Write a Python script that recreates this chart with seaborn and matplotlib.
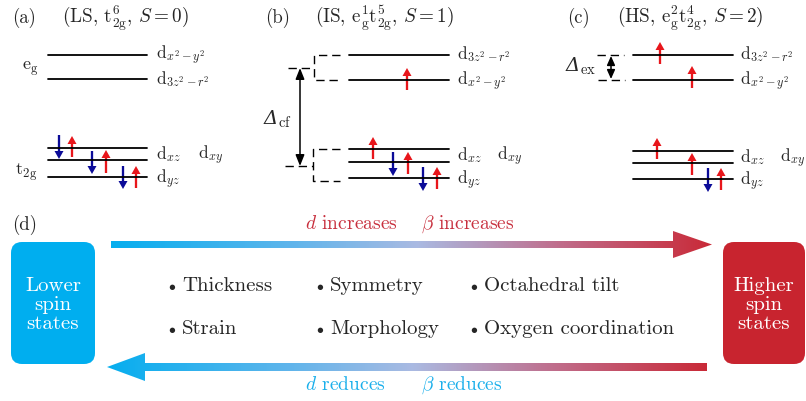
import numpy as np
import pandas as pd
import matplotlib
matplotlib.use('Agg')
import matplotlib.pyplot as plt
import seaborn as sns
from matplotlib.patches import FancyBboxPatch, Polygon
from matplotlib.colors import LinearSegmentedColormap

sns.set_theme(style='white')
plt.rcParams['font.family'] = ['cmr10', 'DejaVu Serif']
plt.rcParams['mathtext.fontset'] = 'cm'
plt.rcParams['axes.formatter.use_mathtext'] = True

# ---------------- data ----------------
panel_tags = ['(a)', '(b)', '(c)']
panel_titles = [r'(LS, $\mathrm{t}_{2\mathrm{g}}^{6}$, $S=0$)',
                r'(IS, $\mathrm{e}_{\mathrm{g}}^{1}\mathrm{t}_{2\mathrm{g}}^{5}$, $S=1$)',
                r'(HS, $\mathrm{e}_{\mathrm{g}}^{2}\mathrm{t}_{2\mathrm{g}}^{4}$, $S=2$)']
# energy levels (screen y, top = higher energy) for each panel: eg1, eg2, t2g1, t2g2, t2g3
levels_a = [55, 79, 148, 160, 177]
levels_b = [55, 80, 149, 162, 178]
levels_c = [55, 80, 151, 163, 179]
level_x = [(48, 147), (349, 449), (633, 733)]
eg_labels_a = [r'$\mathrm{d}_{x^2-y^2}$', r'$\mathrm{d}_{3z^2-r^2}$']
eg_labels_bc = [r'$\mathrm{d}_{3z^2-r^2}$', r'$\mathrm{d}_{x^2-y^2}$']
t2g_labels = [r'$\mathrm{d}_{xz}$', r'$\mathrm{d}_{xy}$', r'$\mathrm{d}_{yz}$']
# spins: (x, start y, end y, direction)
spins_a = [(59, 135, 159, 'down'), (72, 157, 136, 'up'), (92, 151, 174, 'down'),
           (106, 173, 150, 'up'), (123, 166, 189, 'down'), (136, 188, 166, 'up')]
spins_b = [(407, 90, 68, 'up'), (373, 159, 137, 'up'), (393, 152, 176, 'down'),
           (408, 174, 152, 'up'), (423, 167, 191, 'down'), (437, 189, 167, 'up')]
spins_c = [(660, 64, 42, 'up'), (692, 88, 66, 'up'), (657, 159, 138, 'up'),
           (692, 175, 153, 'up'), (708, 168, 192, 'down'), (721, 190, 168, 'up')]
factors_col1 = ['Thickness', 'Strain']
factors_col2 = ['Symmetry', 'Morphology']
factors_col3 = ['Octahedral tilt', 'Oxygen coordination']
box_texts = ['Lower\nspin\nstates', 'Higher\nspin\nstates']
top_labels = [r'$d$ increases', r'$\beta$ increases']
bottom_labels = [r'$d$ reduces', r'$\beta$ reduces']

RED = '#E8161B'
NAVY = '#0B0B98'
CYAN = '#00AEEF'
CRIMSON = '#C8242F'
TXT_RED = '#C8303E'
TXT_CYAN = '#1AAFEB'

fig = plt.figure(figsize=(8.06, 4.01), dpi=100)
ax = fig.add_axes([0, 0, 1, 1])

# ---------------- level lines via seaborn ----------------
rows = []
lid = 0
for (x0, x1), levs in zip(level_x, [levels_a, levels_b, levels_c]):
    for y in levs:
        rows.append(dict(x=x0, y=y, lid=lid))
        rows.append(dict(x=x1, y=y, lid=lid))
        lid += 1
df = pd.DataFrame(rows)
sns.lineplot(data=df, x='x', y='y', units='lid', estimator=None, sort=False,
             color='black', lw=1.3, ax=ax, legend=False)

# ---------------- titles ----------------
tag_x = [12, 265, 567]
title_x = [62, 315, 617]
for tx, tt, t, s in zip(tag_x, title_x, panel_tags, panel_titles):
    ax.text(tx, 23, t, fontsize=13.5, va='baseline', ha='left')
    ax.text(tt, 23, s, fontsize=13.8, va='baseline', ha='left')

# ---------------- level labels ----------------
lab_x = [156, 457, 740]
lab_x2 = [198, 497, 780]
LS = 12.5
for i, levs in enumerate([levels_a, levels_b, levels_c]):
    egl = eg_labels_a if i == 0 else eg_labels_bc
    ax.text(lab_x[i], levs[0] + 4, egl[0], fontsize=LS, va='baseline')
    ax.text(lab_x[i], levs[1] + 5, egl[1], fontsize=LS, va='baseline')
    mid = (levs[2] + levs[3]) / 2 + 5
    ax.text(lab_x[i], mid, t2g_labels[0], fontsize=LS, va='baseline')
    ax.text(lab_x2[i], mid, t2g_labels[1], fontsize=LS, va='baseline')
    ax.text(lab_x[i], levs[4] + 6, t2g_labels[2], fontsize=LS, va='baseline')

ax.text(22, 70, r'$\mathrm{e}_{\mathrm{g}}$', fontsize=13, va='baseline')
ax.text(15, 175, r'$\mathrm{t}_{2\mathrm{g}}$', fontsize=13, va='baseline')

# ---------------- spins ----------------
for spins in [spins_a, spins_b, spins_c]:
    for x, y0, y1, d in spins:
        ax.arrow(x, y0, 0, y1 - y0, width=2.3, head_width=9, head_length=8,
                 length_includes_head=True, color=RED if d == 'up' else NAVY, lw=0)

# ---------------- dashed connectors (b) ----------------
dash = dict(color='black', lw=1.0, linestyle=(0, (6, 3.5)))
ax.plot([288, 314], [68, 68], **dash)
ax.plot([340, 314, 314, 340], [55, 55, 80, 80], **dash)
ax.plot([285, 313], [166, 166], **dash)
ax.plot([340, 313, 313, 340], [149, 149, 181, 181], **dash)
ax.annotate('', xy=(300, 68), xytext=(300, 166),
            arrowprops=dict(arrowstyle='<|-|>,head_length=0.55,head_width=0.22',
                            color='black', lw=1.1, shrinkA=0, shrinkB=0))
ax.text(264, 124, 'Δ', fontsize=14, va='baseline', family='DejaVu Serif', style='italic')
ax.text(278, 127, r'$\mathrm{cf}$', fontsize=10.5, va='baseline')

# ---------------- Delta_ex (c) ----------------
ax.plot([597, 624], [55, 55], **dash)
ax.plot([598, 625], [80, 80], **dash)
ax.annotate('', xy=(611, 56), xytext=(611, 79),
            arrowprops=dict(arrowstyle='<|-|>,head_length=0.45,head_width=0.2',
                            color='black', lw=1.1, shrinkA=0, shrinkB=0))
ax.text(566, 71, 'Δ', fontsize=14, va='baseline', family='DejaVu Serif', style='italic')
ax.text(580, 74, r'$\mathrm{ex}$', fontsize=10.5, va='baseline')

# ---------------- panel (d) ----------------
ax.text(12, 230, '(d)', fontsize=13.5, va='baseline')
box_l = FancyBboxPatch((11, 242), 84, 122, boxstyle='round,pad=0,rounding_size=11',
                       facecolor=CYAN, edgecolor='none')
box_r = FancyBboxPatch((723, 242), 82, 122, boxstyle='round,pad=0,rounding_size=11',
                       facecolor=CRIMSON, edgecolor='none')
ax.add_patch(box_l)
ax.add_patch(box_r)
ax.text(53, 305, box_texts[0], color='white', fontsize=15, ha='center', va='center',
        linespacing=1.1)
ax.text(764, 305, box_texts[1], color='white', fontsize=15, ha='center', va='center',
        linespacing=1.1)

cmap = LinearSegmentedColormap.from_list('grad', [(0, '#06AEEF'), (0.31, '#62B5EB'),
                                                  (0.51, '#AABAE2'), (0.75, '#C06C8A'),
                                                  (1, '#C92A38')])
grad = np.linspace(0, 1, 512).reshape(1, -1)
top_arrow = [(111, 241), (673, 241), (673, 231), (712, 244.5), (673, 258), (673, 248), (111, 248)]
bot_arrow = [(707, 363), (145, 363), (145, 353), (107, 367), (145, 381), (145, 371), (707, 371)]
for pts in [top_arrow, bot_arrow]:
    xs = [p[0] for p in pts]
    ys = [p[1] for p in pts]
    poly = Polygon(pts, closed=True, facecolor='none', edgecolor='none')
    ax.add_patch(poly)
    im = ax.imshow(grad, cmap=cmap, extent=[min(xs), max(xs), max(ys), min(ys)],
                   aspect='auto', interpolation='bilinear')
    im.set_clip_path(poly)

TS = 14
ax.text(305, 229, top_labels[0], color=TXT_RED, fontsize=TS, va='baseline')
ax.text(421, 229, top_labels[1], color=TXT_RED, fontsize=TS, va='baseline')
ax.text(305, 390, bottom_labels[0], color=TXT_CYAN, fontsize=TS, va='baseline')
ax.text(421, 390, bottom_labels[1], color=TXT_CYAN, fontsize=TS, va='baseline')

for bx, col in zip([168, 316, 470], [factors_col1, factors_col2, factors_col3]):
    for by, word in zip([291, 334], col):
        ax.text(bx, by - 1, r'$\bullet$', fontsize=10, va='baseline')
        ax.text(bx + 14, by, word, fontsize=15, va='baseline')

ax.set_xlim(0, 806)
ax.set_ylim(401, 0)
ax.axis('off')
fig.savefig('out.png', dpi=100)
